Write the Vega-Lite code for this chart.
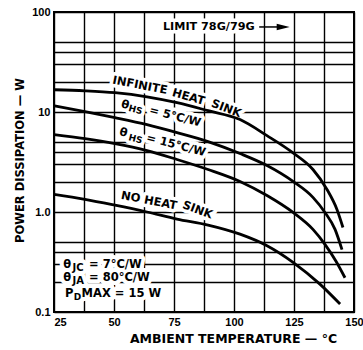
{
  "$schema": "https://vega.github.io/schema/vega-lite/v6.json",
  "width": 300,
  "height": 300,
  "autosize": {"type": "none"},
  "padding": {"left": 54, "top": 12, "right": 9, "bottom": 38},
  "background": "white",
  "config": {
    "view": {"stroke": "black", "strokeWidth": 2},
    "axis": {
      "grid": true, "gridColor": "black", "gridWidth": 1.4, "gridOpacity": 1,
      "domain": false, "ticks": false,
      "labelFont": "Liberation Sans", "labelFontWeight": "bold", "labelFontSize": 11, "labelColor": "black",
      "labelOverlap": false, "labelFlush": false, "labelBound": false,
      "titleFont": "DejaVu Sans", "titleFontWeight": "bold", "titleColor": "black"
    }
  },
  "datasets": {
    "curves": [
      {"s": "inf", "T": 25, "P": 16.7}, {"s": "inf", "T": 37.9, "P": 16.3}, {"s": "inf", "T": 50.4, "P": 15.6},
      {"s": "inf", "T": 63.75, "P": 14.2}, {"s": "inf", "T": 76.25, "P": 12.4}, {"s": "inf", "T": 89.2, "P": 10.3},
      {"s": "inf", "T": 102.5, "P": 8.4}, {"s": "inf", "T": 113.75, "P": 5.8}, {"s": "inf", "T": 124.6, "P": 3.9},
      {"s": "inf", "T": 132.9, "P": 2.66}, {"s": "inf", "T": 138.75, "P": 1.68}, {"s": "inf", "T": 142.9, "P": 1.06},
      {"s": "inf", "T": 145.4, "P": 0.70},
      {"s": "hs5", "T": 25, "P": 11.56}, {"s": "hs5", "T": 37.9, "P": 10.07}, {"s": "hs5", "T": 50.4, "P": 8.77},
      {"s": "hs5", "T": 63.75, "P": 7.47}, {"s": "hs5", "T": 76.25, "P": 6.22}, {"s": "hs5", "T": 89.2, "P": 5.06},
      {"s": "hs5", "T": 102.5, "P": 3.84}, {"s": "hs5", "T": 113.75, "P": 2.91}, {"s": "hs5", "T": 124.6, "P": 2.02},
      {"s": "hs5", "T": 132.9, "P": 1.40}, {"s": "hs5", "T": 137.9, "P": 0.99}, {"s": "hs5", "T": 142.1, "P": 0.67},
      {"s": "hs5", "T": 145, "P": 0.42},
      {"s": "hs15", "T": 25, "P": 5.94}, {"s": "hs15", "T": 37.9, "P": 5.42}, {"s": "hs15", "T": 50.4, "P": 4.83},
      {"s": "hs15", "T": 63.75, "P": 4.11}, {"s": "hs15", "T": 76.25, "P": 3.35}, {"s": "hs15", "T": 89.2, "P": 2.66},
      {"s": "hs15", "T": 102.5, "P": 2.02}, {"s": "hs15", "T": 113.75, "P": 1.46}, {"s": "hs15", "T": 124.6, "P": 0.99},
      {"s": "hs15", "T": 132.9, "P": 0.67}, {"s": "hs15", "T": 137.9, "P": 0.475}, {"s": "hs15", "T": 142.5, "P": 0.322},
      {"s": "hs15", "T": 146.25, "P": 0.22},
      {"s": "none", "T": 25, "P": 1.50}, {"s": "none", "T": 37.9, "P": 1.34}, {"s": "none", "T": 50.4, "P": 1.17},
      {"s": "none", "T": 63.75, "P": 1.0}, {"s": "none", "T": 76.25, "P": 0.85}, {"s": "none", "T": 89.2, "P": 0.74},
      {"s": "none", "T": 102.5, "P": 0.60}, {"s": "none", "T": 113.75, "P": 0.46}, {"s": "none", "T": 124.6, "P": 0.314},
      {"s": "none", "T": 135.8, "P": 0.19}, {"s": "none", "T": 144.2, "P": 0.12}
    ],
    "labels": [
      {"g": "box", "t": "θ", "T": 28.9, "P": 0.2935},
      {"g": "box", "t": "= 7°C/W", "T": 39.6, "P": 0.2935},
      {"g": "box", "t": "θ", "T": 28.9, "P": 0.2213},
      {"g": "box", "t": "= 80°C/W", "T": 39.6, "P": 0.2213},
      {"g": "box", "t": "P", "T": 29.6, "P": 0.151},
      {"g": "box", "t": "MAX = 15 W", "T": 36.5, "P": 0.151},
      {"g": "boxsub", "t": "JC", "T": 32.7, "P": 0.274},
      {"g": "boxsub", "t": "JA", "T": 32.7, "P": 0.2056},
      {"g": "boxsub2", "t": "D", "T": 33.2, "P": 0.1408},
      {"g": "limit", "t": "LIMIT 78G/79G", "T": 70.4, "P": 70.86},
      {"g": "a11", "t": "INFINITE", "T": 60.8, "P": 18.29},
      {"g": "a11", "t": "NO HEAT", "T": 64.6, "P": 1.284},
      {"g": "a16", "t": "HEAT", "T": 81.0, "P": 13.98},
      {"g": "a21", "t": "SINK", "T": 96.7, "P": 10.71},
      {"g": "a21", "t": "SINK", "T": 84.7, "P": 1.037},
      {"g": "a145", "t": "θ", "T": 54.6, "P": 11.63},
      {"g": "a145", "t": "= 5°C/W", "T": 75.4, "P": 8.92},
      {"g": "a145", "t": "θ", "T": 53.9, "P": 6.17},
      {"g": "a145", "t": "= 15°C/W", "T": 75.8, "P": 4.61},
      {"g": "a145sub", "t": "HS", "T": 59.0, "P": 10.54},
      {"g": "a145sub", "t": "HS", "T": 59.0, "P": 5.38}
    ],
    "arrow": [{"T": 110.5, "T2": 120.5, "P": 70.86}]
  },
  "encoding": {
    "x": {
      "field": "T", "type": "quantitative",
      "scale": {"domain": [25, 150], "nice": false, "zero": false},
      "axis": {
        "values": [25, 37.5, 50, 62.5, 75, 87.5, 100, 112.5, 125, 137.5, 150],
        "labelExpr": "datum.value % 25 === 0 ? datum.label : ''",
        "labelAlign": {"condition": {"test": "datum.value === 25", "value": "left"}, "value": "center"},
        "labelPadding": 4,
        "title": "AMBIENT TEMPERATURE — °C",
        "titleFontSize": 12.5, "titleX": 179, "titleY": 26, "titleBaseline": "middle", "titleAlign": "center"
      }
    },
    "y": {
      "field": "P", "type": "quantitative",
      "scale": {"type": "log", "domain": [0.1, 100], "nice": false},
      "axis": {
        "values": [0.1, 0.2, 0.3, 0.4, 0.5, 1, 2, 3, 4, 5, 10, 20, 30, 40, 50, 100],
        "labelExpr": "datum.value == 0.1 ? '0.1' : datum.value == 1 ? '1.0' : datum.value == 10 ? '10' : datum.value == 100 ? '100' : ''",
        "labelPadding": 4,
        "title": "POWER DISSIPATION — W",
        "titleFontSize": 11.5, "titleX": -34, "titleY": 148, "titleBaseline": "middle", "titleAlign": "center", "titleAngle": -90
      }
    }
  },
  "layer": [
    {"data": {"name": "labels"}, "transform": [{"filter": "datum.g === 'box'"}],
     "mark": {"type": "text", "font": "DejaVu Sans", "fontWeight": "bold", "fontSize": 11.5, "align": "left", "baseline": "middle", "fill": "white", "stroke": "white", "strokeWidth": 8, "strokeJoin": "round"},
     "encoding": {"text": {"field": "t"}}},
    {"data": {"name": "labels"}, "transform": [{"filter": "datum.g === 'boxsub' || datum.g === 'boxsub2'"}],
     "mark": {"type": "text", "font": "DejaVu Sans", "fontWeight": "bold", "fontSize": 10, "align": "left", "baseline": "middle", "fill": "white", "stroke": "white", "strokeWidth": 8, "strokeJoin": "round"},
     "encoding": {"text": {"field": "t"}}},
    {"data": {"name": "labels"}, "transform": [{"filter": "datum.g === 'limit'"}],
     "mark": {"type": "text", "font": "DejaVu Sans", "fontWeight": "bold", "fontSize": 11.2, "align": "left", "baseline": "middle", "fill": "white", "stroke": "white", "strokeWidth": 7, "strokeJoin": "round"},
     "encoding": {"text": {"field": "t"}}},
    {"data": {"name": "labels"}, "transform": [{"filter": "datum.g === 'a11'"}],
     "mark": {"type": "text", "angle": 11, "font": "DejaVu Sans", "fontWeight": "bold", "fontSize": 11.5, "align": "center", "baseline": "middle", "fill": "white", "stroke": "white", "strokeWidth": 7, "strokeJoin": "round"},
     "encoding": {"text": {"field": "t"}}},
    {"data": {"name": "labels"}, "transform": [{"filter": "datum.g === 'a16'"}],
     "mark": {"type": "text", "angle": 16, "font": "DejaVu Sans", "fontWeight": "bold", "fontSize": 11.5, "align": "center", "baseline": "middle", "fill": "white", "stroke": "white", "strokeWidth": 7, "strokeJoin": "round"},
     "encoding": {"text": {"field": "t"}}},
    {"data": {"name": "labels"}, "transform": [{"filter": "datum.g === 'a21'"}],
     "mark": {"type": "text", "angle": 21, "font": "DejaVu Sans", "fontWeight": "bold", "fontSize": 11.5, "align": "center", "baseline": "middle", "fill": "white", "stroke": "white", "strokeWidth": 7, "strokeJoin": "round"},
     "encoding": {"text": {"field": "t"}}},
    {"data": {"name": "labels"}, "transform": [{"filter": "datum.g === 'a145'"}],
     "mark": {"type": "text", "angle": 14.5, "font": "DejaVu Sans", "fontWeight": "bold", "fontSize": 11.5, "align": "center", "baseline": "middle", "fill": "white", "stroke": "white", "strokeWidth": 7, "strokeJoin": "round"},
     "encoding": {"text": {"field": "t"}}},
    {"data": {"name": "labels"}, "transform": [{"filter": "datum.g === 'a145sub'"}],
     "mark": {"type": "text", "angle": 14.5, "font": "DejaVu Sans", "fontWeight": "bold", "fontSize": 9, "align": "center", "baseline": "middle", "fill": "white", "stroke": "white", "strokeWidth": 7, "strokeJoin": "round"},
     "encoding": {"text": {"field": "t"}}},
    {"data": {"name": "curves"},
     "mark": {"type": "line", "color": "black", "strokeWidth": 2.8, "interpolate": "monotone", "clip": true},
     "encoding": {"detail": {"field": "s"}}},
    {"data": {"name": "labels"}, "transform": [{"filter": "datum.g === 'box'"}],
     "mark": {"type": "text", "font": "DejaVu Sans", "fontWeight": "bold", "fontSize": 11.5, "align": "left", "baseline": "middle", "color": "black"},
     "encoding": {"text": {"field": "t"}}},
    {"data": {"name": "labels"}, "transform": [{"filter": "datum.g === 'boxsub'"}],
     "mark": {"type": "text", "font": "DejaVu Sans", "fontWeight": "bold", "fontSize": 10, "align": "left", "baseline": "middle", "color": "black"},
     "encoding": {"text": {"field": "t"}}},
    {"data": {"name": "labels"}, "transform": [{"filter": "datum.g === 'boxsub2'"}],
     "mark": {"type": "text", "font": "DejaVu Sans", "fontWeight": "bold", "fontSize": 9, "align": "left", "baseline": "middle", "color": "black"},
     "encoding": {"text": {"field": "t"}}},
    {"data": {"name": "labels"}, "transform": [{"filter": "datum.g === 'limit'"}],
     "mark": {"type": "text", "font": "DejaVu Sans", "fontWeight": "bold", "fontSize": 11.2, "align": "left", "baseline": "middle", "color": "black"},
     "encoding": {"text": {"field": "t"}}},
    {"data": {"name": "labels"}, "transform": [{"filter": "datum.g === 'a11'"}],
     "mark": {"type": "text", "angle": 11, "font": "DejaVu Sans", "fontWeight": "bold", "fontSize": 11.5, "align": "center", "baseline": "middle", "color": "black"},
     "encoding": {"text": {"field": "t"}}},
    {"data": {"name": "labels"}, "transform": [{"filter": "datum.g === 'a16'"}],
     "mark": {"type": "text", "angle": 16, "font": "DejaVu Sans", "fontWeight": "bold", "fontSize": 11.5, "align": "center", "baseline": "middle", "color": "black"},
     "encoding": {"text": {"field": "t"}}},
    {"data": {"name": "labels"}, "transform": [{"filter": "datum.g === 'a21'"}],
     "mark": {"type": "text", "angle": 21, "font": "DejaVu Sans", "fontWeight": "bold", "fontSize": 11.5, "align": "center", "baseline": "middle", "color": "black"},
     "encoding": {"text": {"field": "t"}}},
    {"data": {"name": "labels"}, "transform": [{"filter": "datum.g === 'a145'"}],
     "mark": {"type": "text", "angle": 14.5, "font": "DejaVu Sans", "fontWeight": "bold", "fontSize": 11.5, "align": "center", "baseline": "middle", "color": "black"},
     "encoding": {"text": {"field": "t"}}},
    {"data": {"name": "labels"}, "transform": [{"filter": "datum.g === 'a145sub'"}],
     "mark": {"type": "text", "angle": 14.5, "font": "DejaVu Sans", "fontWeight": "bold", "fontSize": 9, "align": "center", "baseline": "middle", "color": "black"},
     "encoding": {"text": {"field": "t"}}},
    {"data": {"name": "arrow"},
     "mark": {"type": "rule", "color": "black", "strokeWidth": 1.5},
     "encoding": {"x2": {"field": "T2"}}},
    {"data": {"name": "arrow"},
     "mark": {"type": "point", "shape": "M-1,-0.5L1,0L-1,0.5Z", "filled": true, "color": "black", "opacity": 1, "size": 169},
     "encoding": {"x": {"field": "T2", "type": "quantitative"}}}
  ]
}
